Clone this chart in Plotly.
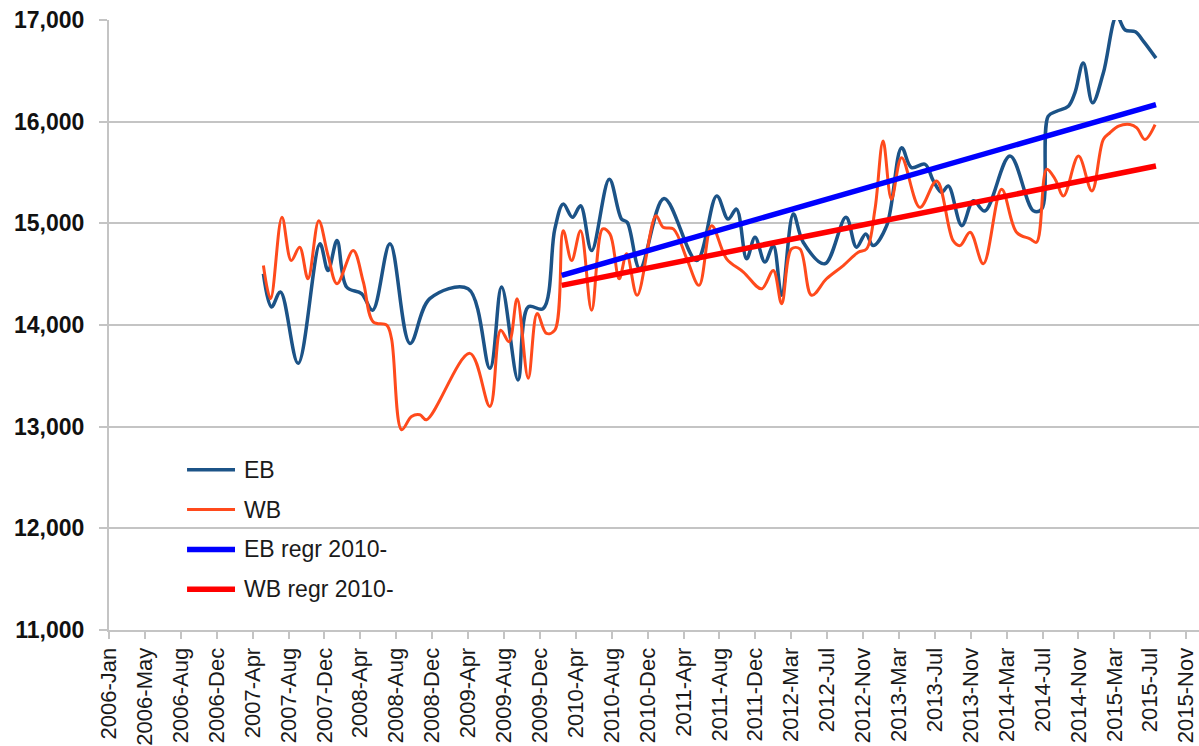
import pandas as pd
import plotly.graph_objects as go

# Eastbound (EB) series
eb_dates = [
    "2007-06-01", "2007-06-28", "2007-07-28", "2007-09-25", "2007-12-07", "2008-01-03",
    "2008-02-02", "2008-03-05", "2008-04-24", "2008-05-31", "2008-07-28", "2008-10-03",
    "2008-12-08", "2009-04-15", "2009-06-27", "2009-08-05", "2009-09-29", "2009-11-02",
    "2009-12-22", "2010-01-30", "2010-02-27", "2010-03-30", "2010-04-26", "2010-06-02",
    "2010-07-31", "2010-09-10", "2010-09-29", "2010-11-10", "2011-01-30", "2011-05-19",
    "2011-07-25", "2011-09-01", "2011-09-29", "2011-11-02", "2011-11-30", "2012-01-02",
    "2012-01-30", "2012-02-27", "2012-04-06", "2012-05-09", "2012-07-20", "2012-09-29",
    "2012-11-03", "2012-12-04", "2012-12-29", "2013-02-12", "2013-04-03", "2013-05-06",
    "2013-06-20", "2013-07-18", "2013-08-15", "2013-09-06", "2013-10-21", "2013-11-29",
    "2014-01-06", "2014-03-31", "2014-06-17", "2014-07-15", "2014-08-06", "2014-09-03",
    "2014-10-12", "2014-11-03", "2014-12-01", "2015-01-01", "2015-02-06", "2015-03-23",
    "2015-04-20", "2015-05-24", "2015-06-21", "2015-08-01",
]
eb_values = [
    14504, 14178, 14325, 13623, 14798, 14536,
    14830, 14374, 14308, 14145, 14798, 13819,
    14259, 14357, 13574, 14374, 13460, 14178,
    14161, 14945, 15189, 15059, 15173, 14732,
    15434, 15042, 15010, 14553, 15245, 14634,
    15270, 15042, 15140, 14651, 14863, 14619,
    14781, 14292, 15091, 14814, 14602, 15059,
    14765, 14896, 14781, 14977, 15744, 15548,
    15581, 15417, 15304, 15368, 14977, 15222,
    15121, 15662, 15124, 15140, 16054, 16102,
    16151, 16283, 16576, 16185, 16478, 17040,
    16902, 16885, 16788, 16625,
]

# Westbound (WB) series
wb_dates = [
    "2007-06-01", "2007-06-25", "2007-08-02", "2007-09-02", "2007-09-30", "2007-10-28",
    "2007-12-03", "2008-01-03", "2008-02-02", "2008-03-27", "2008-04-30", "2008-06-02",
    "2008-07-17", "2008-08-02", "2008-09-05", "2008-10-08", "2008-11-05", "2008-11-27",
    "2009-04-21", "2009-06-27", "2009-08-02", "2009-08-30", "2009-09-26", "2009-11-02",
    "2009-12-02", "2010-01-02", "2010-01-30", "2010-02-27", "2010-03-27", "2010-04-26",
    "2010-06-02", "2010-07-09", "2010-08-02", "2010-09-02", "2010-09-27", "2010-11-01",
    "2011-01-03", "2011-01-27", "2011-03-02", "2011-04-16", "2011-05-27", "2011-07-08",
    "2011-08-27", "2011-10-22", "2011-12-22", "2012-01-30", "2012-02-27", "2012-03-31",
    "2012-04-28", "2012-06-06", "2012-07-26", "2012-09-20", "2012-11-09", "2012-12-07",
    "2013-01-04", "2013-01-31", "2013-02-28", "2013-04-03", "2013-06-03", "2013-07-29",
    "2013-09-22", "2013-10-15", "2013-11-18", "2014-01-01", "2014-03-03", "2014-04-22",
    "2014-06-06", "2014-06-28", "2014-08-01", "2014-08-29", "2014-09-26", "2014-11-15",
    "2014-12-30", "2015-02-06", "2015-02-28", "2015-03-29", "2015-05-06", "2015-05-29",
    "2015-06-25", "2015-07-29",
]
wb_values = [
    14585, 14259, 15059, 14634, 14765, 14455,
    15026, 14683, 14406, 14732, 14423, 14031,
    13998, 13868, 12970, 13101, 13117, 13068,
    13721, 13199, 13949, 13836, 14259, 13476,
    14113, 13917, 13949, 14928, 14634, 14928,
    14145, 14945, 14896, 14455, 14700, 14292,
    15075, 14961, 14945, 14651, 14390, 14977,
    14651, 14521, 14357, 14536, 14210, 14749,
    14749, 14292, 14455, 14585, 14716, 14749,
    15140, 15809, 15238, 15646, 15157, 15417,
    14830, 14781, 14912, 14602, 15336, 14912,
    14847, 14814, 15532, 15434, 15270, 15662,
    15319, 15825, 15891, 15956, 15972, 15940,
    15825, 15972,
]

# Linear trends fitted from 2010 onwards
regr_dates = ["2010-02-22", "2015-08-01"]
eb_regr_values = [14488, 16168]
wb_regr_values = [14390, 15564]

# Date axis labels, one every 120 days starting 2006-01-01
tick_labels = [
    "2006-Jan", "2006-May", "2006-Aug", "2006-Dec", "2007-Apr", "2007-Aug", "2007-Dec",
    "2008-Apr", "2008-Aug", "2008-Dec", "2009-Apr", "2009-Aug", "2009-Dec", "2010-Apr",
    "2010-Aug", "2010-Dec", "2011-Apr", "2011-Aug", "2011-Dec", "2012-Mar", "2012-Jul",
    "2012-Nov", "2013-Mar", "2013-Jul", "2013-Nov", "2014-Mar", "2014-Jul", "2014-Nov",
    "2015-Mar", "2015-Jul", "2015-Nov",
]
tick_positions = pd.date_range("2006-01-01", periods=len(tick_labels), freq="120D")

series = [
    ("EB", eb_dates, eb_values, "#1C5387", 3.5, "spline"),
    ("WB", wb_dates, wb_values, "#FF4A1C", 3, "spline"),
    ("EB regr 2010-", regr_dates, eb_regr_values, "#0000FF", 5.5, "linear"),
    ("WB regr 2010-", regr_dates, wb_regr_values, "#FF0000", 5.5, "linear"),
]

fig = go.Figure()
for name, xs, ys, color, width, shape in series:
    fig.add_trace(go.Scatter(
        x=pd.to_datetime(xs), y=ys, name=name, mode="lines",
        line=dict(color=color, width=width, shape=shape, smoothing=1.0),
        showlegend=False,
    ))

# Legend drawn as line samples with labels in the lower-left of the plot
legend_rows_y = [0.2626, 0.1974, 0.1321, 0.0669]
for (name, _, _, color, width, _), ly in zip(series, legend_rows_y):
    fig.add_shape(type="line", xref="paper", yref="paper",
                  x0=0.0716, x1=0.1156, y0=ly, y1=ly,
                  line=dict(color=color, width=width))
    fig.add_annotation(xref="paper", yref="paper", x=0.1220, y=ly,
                       text=name, showarrow=False, xanchor="left", yanchor="middle",
                       font=dict(family="Liberation Sans, Arial", size=23, color="#1a1a1a"))

grid_color = "#C4C4C4"
fig.update_layout(
    width=1199, height=746,
    margin=dict(l=109, r=0, t=20, b=113),
    paper_bgcolor="white", plot_bgcolor="white",
    font=dict(family="Liberation Sans, Arial", color="#1a1a1a"),
    xaxis=dict(
        type="date",
        range=["2006-01-01", "2015-12-22 19:00"],
        tickmode="array", tickvals=tick_positions, ticktext=tick_labels,
        tickangle=-90, tickfont=dict(size=22, color="#1a1a1a"),
        ticks="outside", ticklen=7, tickcolor=grid_color, tickwidth=2,
        showgrid=False, showline=True, linecolor=grid_color, linewidth=2,
        zeroline=False,
    ),
    yaxis=dict(
        range=[11000, 17000], dtick=1000, tick0=11000, tickformat=",",
        tickfont=dict(size=23, color="#111111", family="Liberation Sans, Arial"),
        ticks="outside", ticklen=8, tickcolor=grid_color, tickwidth=2,
        ticklabelstandoff=10,
        showgrid=True, gridcolor=grid_color, gridwidth=2,
        showline=True, linecolor=grid_color, linewidth=2,
        zeroline=False,
    ),
)
fig.update_yaxes(tickprefix="<b>", ticksuffix="</b>")

fig.write_html("out.html")
